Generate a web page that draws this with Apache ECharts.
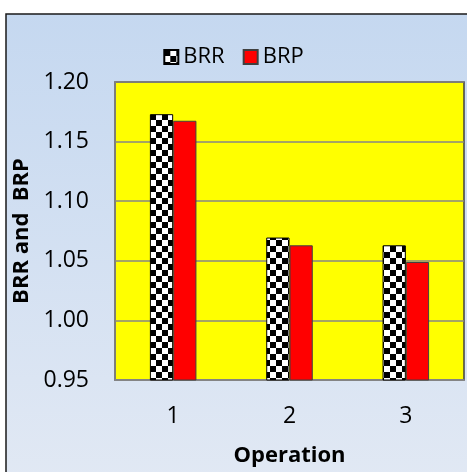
<!DOCTYPE html>
<html>
<head>
<meta charset="utf-8">
<script src="https://cdn.jsdelivr.net/npm/echarts@6/dist/echarts.min.js"></script>
<style>
html,body{margin:0;padding:0;background:#fff;}
#c{width:467px;height:472px;}
</style>
</head>
<body>
<div id="c"></div>
<script>
var categories = ['1', '2', '3'];
var brr = [1.173, 1.0695, 1.063];
var brp = [1.1675, 1.063, 1.049];
var yTicks = { min: 0.95, max: 1.20, interval: 0.05 };

var pc = document.createElement('canvas');
pc.width = 12; pc.height = 12;
var g = pc.getContext('2d');
g.fillStyle = '#ffffff'; g.fillRect(0, 0, 12, 12);
g.fillStyle = '#000000';
g.fillRect(0, 0, 6, 6); g.fillRect(6, 6, 6, 6);

var FONT = 'Open Sans';
var chart = echarts.init(document.getElementById('c'), null, { renderer: 'canvas' });
chart.setOption({
  animation: false,
  textStyle: { fontFamily: FONT },
  graphic: [{
    type: 'rect', z: -100, silent: true,
    shape: { x: 6, y: 14, width: 480, height: 480 },
    style: {
      fill: new echarts.graphic.LinearGradient(0, 0, 0, 1, [
        { offset: 0, color: '#c5d8f0' },
        { offset: 1, color: '#e2e9f4' }
      ]),
      stroke: '#1a1a1a', lineWidth: 1.5
    }
  }],
  legend: {
    top: 41, left: 'center', icon: 'rect',
    itemWidth: 14, itemHeight: 14, itemGap: 18,
    textStyle: { fontSize: 22, color: '#000', fontFamily: FONT },
    data: ['BRR', 'BRP']
  },
  grid: {
    left: 115, right: 3, top: 82, bottom: 92,
    show: true, backgroundColor: '#ffff00', borderColor: '#404040', borderWidth: 1.5
  },
  xAxis: {
    type: 'category', data: categories,
    name: 'Operation', nameLocation: 'middle', nameGap: 65,
    nameTextStyle: { fontSize: 22, fontWeight: 'bold', color: '#000', fontFamily: FONT },
    axisLine: { show: true, lineStyle: { color: '#868686', width: 1.5 } },
    axisTick: { show: false },
    axisLabel: { fontSize: 23, color: '#000', margin: 25, fontFamily: FONT }
  },
  yAxis: {
    type: 'value', min: yTicks.min, max: yTicks.max, interval: yTicks.interval,
    name: 'BRR and  BRP', nameLocation: 'middle', nameGap: 74,
    nameTextStyle: { fontSize: 22, fontWeight: 'bold', color: '#000', fontFamily: FONT },
    axisLine: { show: true, lineStyle: { color: '#868686', width: 1.5 } },
    axisTick: { show: false },
    splitLine: { show: true, lineStyle: { color: '#868686', width: 1.5 } },
    axisLabel: { fontSize: 23, color: '#000', margin: 26, fontFamily: FONT,
      formatter: function (v) { return v.toFixed(2); } }
  },
  series: [
    { name: 'BRR', type: 'bar', data: brr, barGap: '0%', barCategoryGap: '60%',
      itemStyle: { color: { image: pc, repeat: 'repeat' }, borderColor: '#000', borderWidth: 1 } },
    { name: 'BRP', type: 'bar', data: brp,
      itemStyle: { color: '#ff0000', borderColor: '#404040', borderWidth: 1 } }
  ]
});
</script>
</body>
</html>
